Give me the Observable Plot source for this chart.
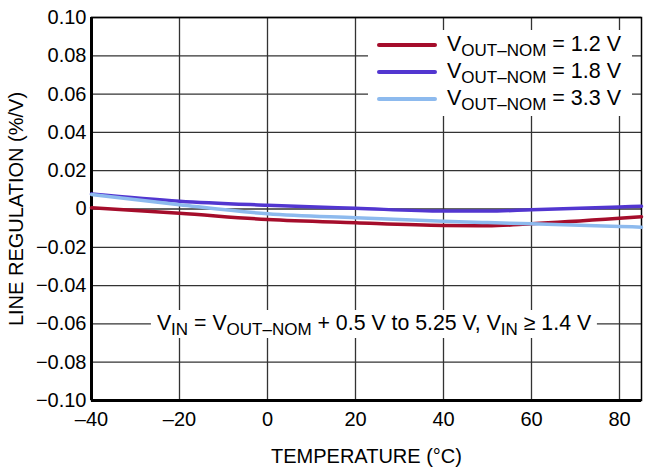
<!DOCTYPE html>
<html><head><meta charset="utf-8">
<script src="https://cdn.jsdelivr.net/npm/d3@7"></script>
<script src="https://cdn.jsdelivr.net/npm/@observablehq/plot@0.6"></script>
<style>
html,body{margin:0;padding:0;background:#fff;}
#wrap{position:relative;width:645px;height:473px;font-family:"Liberation Sans",Arial,Helvetica,sans-serif;color:#000;}
#wrap svg{display:block;}
.legend{position:absolute;left:368px;top:30px;width:264px;height:86px;background:#fff;}
.sw{position:absolute;left:9px;width:60px;height:4px;border-radius:2px;}
.lt{position:absolute;left:79px;font-size:21.5px;line-height:24px;white-space:nowrap;}
.sub{font-size:17px;position:relative;top:5px;}
.note{position:absolute;top:310px;left:374px;transform:translateX(-50%);background:#fff;padding:0 6px;font-size:21.3px;line-height:26px;white-space:nowrap;}
</style></head><body><div id="wrap"></div>
<script>
const temps = [-40, -20, 0, 20, 40, 50, 60, 80, 85];
const series = ["1.2 V", "1.8 V", "3.3 V"];
const colors = ["#A50D2B", "#5236D0", "#8DBAEE"];
const v12 = [0.0006, -0.0022, -0.0055, -0.0072, -0.0086, -0.0088, -0.0077, -0.0048, -0.0040];
const v18 = [0.0079, 0.0041, 0.0020, 0.0004, -0.0011, -0.0011, -0.0004, 0.0011, 0.0015];
const v33 = [0.0076, 0.0022, -0.0025, -0.0046, -0.0064, -0.0071, -0.0077, -0.0091, -0.0095];
const xTicks = [-40, -20, 0, 20, 40, 60, 80];
const yTicks = [-0.10, -0.08, -0.06, -0.04, -0.02, 0, 0.02, 0.04, 0.06, 0.08, 0.10];

const values = [v12, v18, v33];
const data = [];
series.forEach((s, i) => temps.forEach((t, j) => data.push({t, v: values[i][j], s})));

const dash = s => s.replace("-", "\u2013");
const chart = Plot.plot({
  width: 645, height: 473,
  marginLeft: 91, marginRight: 4, marginTop: 17, marginBottom: 73,
  style: {fontFamily: '"Liberation Sans",Arial,Helvetica,sans-serif', fontSize: "20px", color: "#000", background: "#fff"},
  x: {domain: [-40, 85], ticks: xTicks, tickSize: 0, tickPadding: 11,
      tickFormat: d => dash(String(d)), label: "TEMPERATURE (°C)", labelArrow: false, labelAnchor: "center", labelOffset: 62},
  y: {domain: [-0.1, 0.1], ticks: yTicks, tickSize: 0, tickPadding: 5,
      tickFormat: d => Math.abs(d) < 1e-9 ? "0" : dash(d3.format(".2f")(d)),
      label: "LINE REGULATION (%/V)", labelArrow: false, labelAnchor: "center", labelOffset: 83},
  color: {domain: series, range: colors},
  marks: [
    Plot.gridX(xTicks, {stroke: "#333", strokeOpacity: 1, strokeWidth: 1.3}),
    Plot.gridY(yTicks, {stroke: "#333", strokeOpacity: 1, strokeWidth: 1.3}),
    Plot.frame({stroke: "#000", strokeWidth: 1.5}),
    Plot.ruleX([-40], {stroke: "#000", strokeWidth: 3}),
    Plot.ruleY([-0.1], {stroke: "#000", strokeWidth: 3}),
    Plot.line(data, {x: "t", y: "v", z: "s", stroke: "s", strokeWidth: 3.5, curve: "monotone-x"})
  ]
});
const wrap = document.getElementById("wrap");
wrap.appendChild(chart);

const leg = document.createElement("div");
leg.className = "legend";
series.forEach((s, i) => {
  const cy = 15 + 27 * i;
  const sw = document.createElement("div");
  sw.className = "sw"; sw.style.top = (cy - 2) + "px"; sw.style.background = colors[i];
  const lt = document.createElement("div");
  lt.className = "lt"; lt.style.top = (cy - 13) + "px";
  lt.innerHTML = 'V<span class="sub">OUT\u2013NOM</span> = ' + s;
  leg.appendChild(sw); leg.appendChild(lt);
});
wrap.appendChild(leg);

const note = document.createElement("div");
note.className = "note";
note.innerHTML = 'V<span class="sub">IN</span> = V<span class="sub">OUT\u2013NOM</span> + 0.5 V to 5.25 V, V<span class="sub">IN</span> \u2265 1.4 V';
wrap.appendChild(note);
</script>
</body></html>
